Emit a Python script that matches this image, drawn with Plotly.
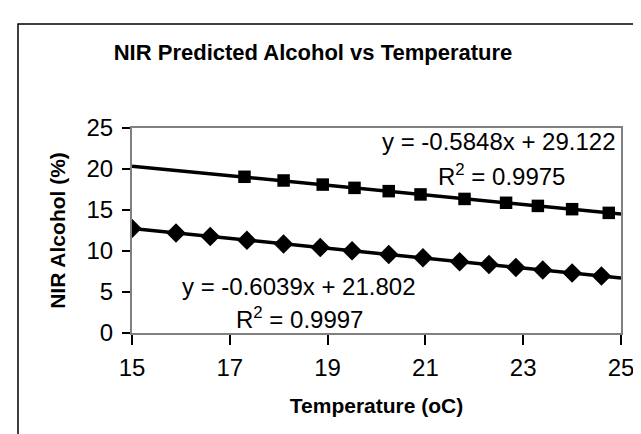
import plotly.graph_objects as go

# ---- data ----
temp_high = [17.3, 18.1, 18.9, 19.55, 20.25, 20.9, 21.8, 22.65, 23.3, 24.0, 24.75]
alc_high = [19.05, 18.6, 18.1, 17.7, 17.3, 16.9, 16.35, 15.88, 15.5, 15.1, 14.65]

temp_low = [15.0, 15.9, 16.6, 17.35, 18.1, 18.85, 19.5, 20.25, 20.95, 21.7, 22.3, 22.85, 23.4, 24.0, 24.6]
alc_low = [12.75, 12.2, 11.78, 11.3, 10.85, 10.42, 10.02, 9.58, 9.17, 8.70, 8.35, 8.0, 7.67, 7.31, 6.95]

# trendline coefficients (as printed on the chart)
slopes = [-0.5848, -0.6039]
intercepts = [29.122, 21.802]
r_squared = [0.9975, 0.9997]
trend_range = [15, 25]

x_ticks = [15, 17, 19, 21, 23, 25]
y_ticks = [0, 5, 10, 15, 20, 25]

FONT = "Liberation Sans, Arial, sans-serif"

W, H = 641, 434
L, R, T, B = 124, 613, 120, 325  # plot area in pixels


def px(x):
    return (x - L) / (R - L)


def py(y):
    return (B - y) / (B - T)


fig = go.Figure()

# trendlines
for m, c in zip(slopes, intercepts):
    fig.add_trace(go.Scatter(
        x=trend_range, y=[m * v + c for v in trend_range],
        mode="lines", line=dict(color="black", width=3.5),
        showlegend=False, hoverinfo="skip"))

fig.add_trace(go.Scatter(
    x=temp_high, y=alc_high, mode="markers",
    marker=dict(symbol="square", size=12.5, color="black"),
    showlegend=False))
fig.add_trace(go.Scatter(
    x=temp_low, y=alc_low, mode="markers",
    marker=dict(symbol="diamond", size=15, color="black"),
    showlegend=False))

annotations = [
    dict(text="y = %.4fx + %.3f" % (slopes[0], intercepts[0]),
         x=px(610), y=py(133), xanchor="right", yanchor="middle"),
    dict(text="R<sup>2</sup> = %.4f" % r_squared[0],
         x=px(493), y=py(167), xanchor="center", yanchor="middle"),
    dict(text="y = %.4fx + %.3f" % (slopes[1], intercepts[1]),
         x=px(291), y=py(278), xanchor="center", yanchor="middle"),
    dict(text="R<sup>2</sup> = %.4f" % r_squared[1],
         x=px(291), y=py(310), xanchor="center", yanchor="middle"),
]
for a in annotations:
    a.update(xref="paper", yref="paper", showarrow=False,
             font=dict(family=FONT, size=24, color="black"))

fig.update_layout(
    width=W, height=H,
    margin=dict(l=L, r=W - R, t=T, b=H - B),
    paper_bgcolor="white", plot_bgcolor="white",
    font=dict(family=FONT, color="black"),
    title=dict(text="<b>NIR Predicted Alcohol vs Temperature</b>",
               x=305 / W, xanchor="center", y=1 - 44 / H, yanchor="middle",
               font=dict(family=FONT, size=22, color="black")),
    annotations=annotations,
    shapes=[dict(type="rect", xref="paper", yref="paper",
                 x0=px(10), x1=px(700), y0=py(500), y1=py(16),
                 line=dict(color="black", width=1.5), layer="below")],
    xaxis=dict(range=[15, 25], tickvals=x_ticks, ticks="outside", ticklen=10,
               tickcolor="black", tickwidth=1.5,
               showline=True, linecolor="#808080", linewidth=2, mirror=True,
               showgrid=False, zeroline=False,
               tickfont=dict(family=FONT, size=24, color="black"),
               ticklabelstandoff=2,
               title=dict(text="<b>Temperature (oC)</b>", standoff=19,
                          font=dict(family=FONT, size=21, color="black"))),
    yaxis=dict(range=[0, 25], tickvals=y_ticks, ticks="outside", ticklen=8,
               tickcolor="black", tickwidth=1.5,
               showline=True, linecolor="#808080", linewidth=2, mirror=True,
               showgrid=False, zeroline=False,
               tickfont=dict(family=FONT, size=24, color="black"),
               ticklabelstandoff=4,
               title=dict(text="<b>NIR Alcohol (%)</b>", standoff=15,
                          font=dict(family=FONT, size=21, color="black"))),
)

fig.write_html("out.html")
